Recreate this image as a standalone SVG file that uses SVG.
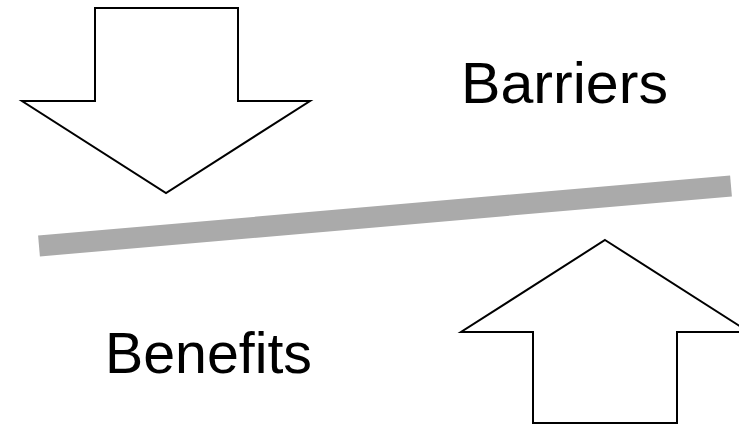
<svg xmlns="http://www.w3.org/2000/svg" width="739" height="425" viewBox="0 0 739 425">
<style>
.arrow{fill:#fff;stroke:#000;stroke-width:2;stroke-linejoin:miter}
.lbl{font-family:"Gill Sans","Liberation Sans",Arial,sans-serif;font-size:57px;fill:#000}
</style>
<rect width="739" height="425" fill="#fff"/>
<g id="connectors">
<line x1="39" y1="246" x2="731" y2="186" stroke="#aaaaaa" stroke-width="21"/>
</g>
<g id="barriers-arrow">
<polygon class="arrow" points="95,8 238,8 238,101 310,101 166,193 22,101 95,101"/>
</g>
<g id="benefits-arrow">
<polygon class="arrow" points="605,240 749,332 677,332 677,423 533,423 533,332 461,332"/>
</g>
<g id="barriers">
<text class="lbl" x="461" y="103" textLength="207" lengthAdjust="spacingAndGlyphs">Barriers</text>
</g>
<g id="benefits">
<text class="lbl" x="105" y="373" textLength="207" lengthAdjust="spacingAndGlyphs">Benefits</text>
</g>
</svg>
